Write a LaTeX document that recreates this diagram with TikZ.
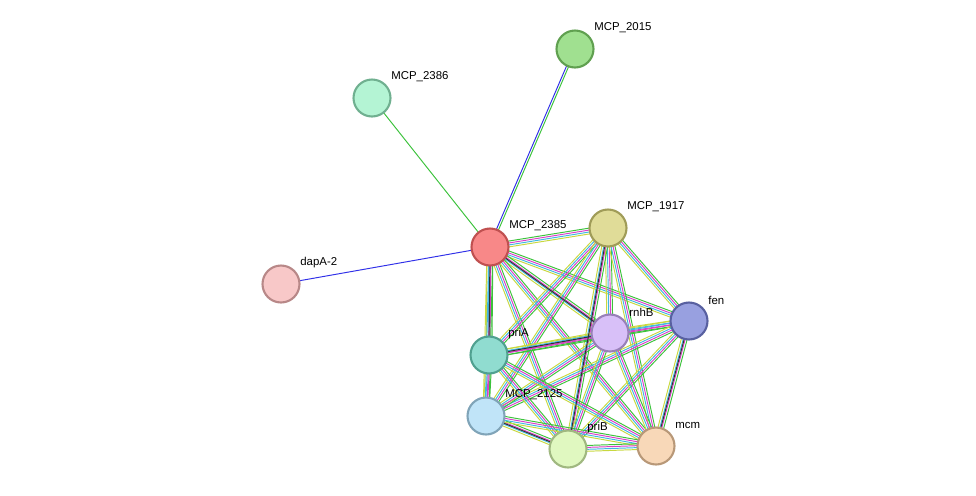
\documentclass[tikz,border=0pt]{standalone}
\usepackage{fontspec}
\setmainfont{Liberation Sans}
\usetikzlibrary{calc}
\definecolor{sneigh}{HTML}{3CC23C}
\definecolor{sexp}{HTML}{D940C8}
\definecolor{sdb}{HTML}{40B8E0}
\definecolor{stext}{HTML}{C8D840}
\definecolor{scoex}{HTML}{303030}
\definecolor{scooc}{HTML}{3030E8}
\tikzset{
  prot/.style={circle,draw,line width=1.2pt,minimum size=0.74cm,inner sep=0pt},
  plabel/.style={font=\fontsize{6.5}{8}\selectfont,anchor=west,inner sep=0pt},
  edge/.style={line width=0.55pt}
}
% parallel evidence lines between two nodes
\newcommand{\stredge}[3]{%
  \foreach \c [count=\i] in {#3} {
    \draw[edge,\c] ($(#1)!{(\i-2.5)*1.1pt}!90:(#2)$) -- ($(#2)!{(\i-2.5)*1.1pt}!-90:(#1)$);
  }}
\begin{document}
\begin{tikzpicture}[x=0.02cm,y=-0.02cm]
\useasboundingbox (0,0) rectangle (976,495);

% node positions
\coordinate (c2015) at (575,49);
\coordinate (c2386) at (372,98);
\coordinate (c2385) at (490,247);
\coordinate (c1917) at (608,228);
\coordinate (cdapA) at (281,284);
\coordinate (cfen) at (689,321);
\coordinate (crnhB) at (610,333);
\coordinate (cpriA) at (489,355);
\coordinate (c2125) at (486,416);
\coordinate (cpriB) at (568,449);
\coordinate (cmcm) at (656,446);

% edges
\draw[edge,sneigh] (c2386) -- (c2385);
\draw[edge,scooc] (c2385) -- (cdapA);
\draw[edge,scooc] ($(c2385)!0.6pt!90:(c2015)$) -- ($(c2015)!0.6pt!-90:(c2385)$);
\draw[edge,sneigh] ($(c2385)!-0.6pt!90:(c2015)$) -- ($(c2015)!-0.6pt!-90:(c2385)$);
\foreach \a/\b in {c2385/c1917,c2385/cfen,c2385/crnhB,c2385/cpriA,c2385/c2125,c2385/cpriB,c2385/cmcm,
  c1917/cfen,c1917/crnhB,c1917/cpriA,c1917/c2125,c1917/cpriB,c1917/cmcm,
  cfen/crnhB,cfen/cpriA,cfen/c2125,cfen/cpriB,cfen/cmcm,
  crnhB/cpriA,crnhB/c2125,crnhB/cpriB,crnhB/cmcm,
  cpriA/c2125,cpriA/cpriB,cpriA/cmcm,
  c2125/cpriB,c2125/cmcm,cpriB/cmcm}
  {\stredge{\a}{\b}{stext,sdb,sexp,sneigh}}
\foreach \a/\b in {c2385/cpriA,c2385/crnhB,c1917/cpriB,cpriA/crnhB,c2125/cpriB,cfen/cmcm}
  {\draw[edge,scoex] (\a) -- (\b);}

% proteins
\foreach \n/\f/\d/\t in {c2015/A0E090/60A050/MCP\_2015,c2386/B4F4D4/70B090/MCP\_2386,
  c2385/F88888/C05050/MCP\_2385,c1917/E0DC98/A09C58/MCP\_1917,cdapA/F8C8C8/B88888/dapA-2,
  cfen/98A0E0/5860A0/fen,crnhB/D8C0F8/9880B8/rnhB,cpriA/90DCD0/50A090/priA,
  c2125/C0E4F8/80A4B8/MCP\_2125,cpriB/E0F8C0/A0B880/priB,cmcm/F8D8B8/B89878/mcm}
{
  \definecolor{fc}{HTML}{\f}\definecolor{dc}{HTML}{\d}
  \node[prot,fill=fc,draw=dc] (n\n) at (\n) {};
  \node[plabel] (l\n) at ($(\n)+(19,-21)$) {\t};
}
\end{tikzpicture}
\end{document}
